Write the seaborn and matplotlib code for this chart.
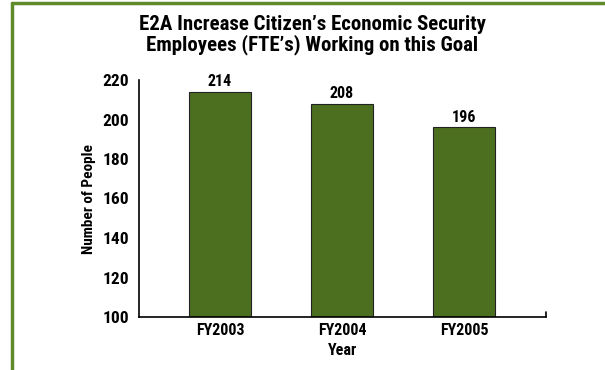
import matplotlib
matplotlib.use("Agg")
import matplotlib.pyplot as plt
import matplotlib.lines as mlines
import seaborn as sns
import pandas as pd

years = ["FY2003", "FY2004", "FY2005"]
people = [214, 208, 196]
y_ticks = [100, 120, 140, 160, 180, 200, 220]

sns.set_style("white")
plt.rcParams["font.family"] = ["Roboto Condensed", "Archivo Narrow", "DejaVu Sans"]
plt.rcParams["font.weight"] = "bold"
plt.rcParams["text.color"] = "black"
plt.rcParams["axes.labelcolor"] = "black"
plt.rcParams["xtick.color"] = "black"
plt.rcParams["ytick.color"] = "black"

bar_color = "#4c6f1f"
frame_color = "#5e8a2c"

df = pd.DataFrame({"Year": years, "People": people})

fig = plt.figure(figsize=(6.05, 3.70), dpi=100)
ax = fig.add_axes([139 / 605, 1 - 317 / 370, (546 - 139) / 605, (317 - 80) / 370])

sns.barplot(data=df, x="Year", y="People", color=bar_color, width=0.51,
            edgecolor="#222222", linewidth=0.8, saturation=1, ax=ax)

ax.set_ylim(100, 220)
ax.set_xlim(-0.664, 2.672)
ax.set_yticks(y_ticks)
ax.set_yticklabels([str(t) for t in y_ticks], fontsize=12.5, fontweight="bold")
ax.tick_params(axis="y", direction="in", length=7, width=1, pad=7)
ax.tick_params(axis="x", length=0, pad=4)
for lab in ax.get_xticklabels():
    lab.set_fontsize(11.5)
    lab.set_fontweight("bold")

for side in ["top", "right"]:
    ax.spines[side].set_visible(False)
for side in ["left", "bottom"]:
    ax.spines[side].set_color("black")
    ax.spines[side].set_linewidth(1.2)

# small end tick at the right of the x axis
ax.plot([1, 1], [0, 0.02], transform=ax.transAxes, color="black", lw=1.2, clip_on=False)

for i, v in enumerate(people):
    ax.text(i, v + 1.2, str(v), ha="center", va="bottom", fontsize=11.5, fontweight="bold")

ax.set_xlabel("Year", fontsize=11.5, fontweight="bold", labelpad=4)
ax.set_ylabel("Number of People", fontsize=11, fontweight="bold", labelpad=5)

fig.text(0.516, 1 - 35 / 370, "E2A Increase Citizen\u2019s Economic Security\nEmployees (FTE\u2019s) Working on this Goal",
         ha="center", va="center", fontsize=15, fontweight="bold", linespacing=1.05)

# green frame along the top and left edges
fig.add_artist(mlines.Line2D([12 / 605, 1], [1 - 3 / 370, 1 - 3 / 370], color=frame_color, lw=2.5,
                             transform=fig.transFigure))
fig.add_artist(mlines.Line2D([12 / 605, 12 / 605], [0, 1 - 3 / 370], color=frame_color, lw=2.5,
                             transform=fig.transFigure))

fig.savefig("out.png", dpi=100)
